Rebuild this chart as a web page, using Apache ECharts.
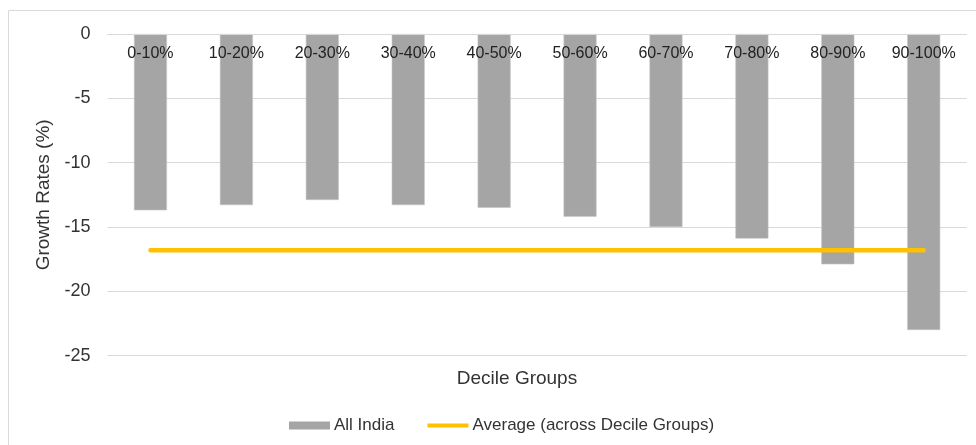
<!DOCTYPE html>
<html>
<head>
<meta charset="utf-8">
<title>Growth Rates by Decile Group</title>
<script src="https://cdn.jsdelivr.net/npm/echarts@6/dist/echarts.min.js"></script>
<style>
  html, body { margin: 0; padding: 0; background: #ffffff; }
  #chart { width: 976px; height: 445px; }
</style>
</head>
<body>
<div id="chart"></div>
<script>
// Decile groups along the category axis
const decileGroups = ['0-10%', '10-20%', '20-30%', '30-40%', '40-50%',
                      '50-60%', '60-70%', '70-80%', '80-90%', '90-100%'];

// Growth rates (%) for All India, per decile group
const allIndia = [-13.7, -13.3, -12.9, -13.3, -13.5, -14.2, -15.0, -15.9, -17.9, -23.0];

// Average growth rate across the decile groups
const averageValue = -16.8;
const averageLine = decileGroups.map(() => averageValue);

// Value-axis ticks
const yTicks = { min: -25, max: 0, interval: 5 };

const FONT = '"Liberation Sans", Arial, sans-serif';
const TEXT = '#333333';

const chart = echarts.init(document.getElementById('chart'), null, { renderer: 'canvas' });

chart.setOption({
  animation: false,
  backgroundColor: '#ffffff',
  textStyle: { fontFamily: FONT },
  grid: { left: 107.5, right: 9.3, top: 34, bottom: 89.3, containLabel: false },
  legend: {
    data: [
      { name: 'All India', icon: 'rect', itemStyle: { color: '#a5a5a5', borderWidth: 0 } },
      { name: 'Average (across Decile Groups)', icon: 'path://M0,0 L45,0 L45,4.5 L0,4.5 Z' }
    ],
    left: 284,
    top: 412,
    itemWidth: 41,
    itemHeight: 8,
    itemGap: 33,
    textStyle: { fontFamily: FONT, fontSize: 17, color: TEXT, padding: [0, 0, 0, -1] }
  },
  xAxis: {
    type: 'category',
    data: decileGroups,
    position: 'top',
    z: 10,
    boundaryGap: true,
    axisLine: { show: true, lineStyle: { color: '#d9d9d9', width: 1 } },
    axisTick: { show: false },
    axisLabel: {
      inside: true,
      margin: 12,
      fontFamily: FONT,
      fontSize: 16,
      color: '#222222'
    },
    splitLine: { show: false }
  },
  yAxis: {
    type: 'value',
    min: yTicks.min,
    max: yTicks.max,
    interval: yTicks.interval,
    name: 'Growth Rates (%)',
    nameLocation: 'middle',
    nameRotate: 90,
    nameGap: 50,
    nameTextStyle: { fontFamily: FONT, fontSize: 19, color: TEXT },
    axisLine: { show: false },
    axisTick: { show: false },
    axisLabel: { fontFamily: FONT, fontSize: 18, color: TEXT, margin: 17 },
    splitLine: { show: true, lineStyle: { color: '#d9d9d9', width: 1 } }
  },
  graphic: [
    {
      type: 'rect',
      shape: { x: 8.5, y: 10.5, width: 1000, height: 500 },
      style: { fill: null, stroke: '#d9d9d9', lineWidth: 1 },
      silent: true
    },
    {
      type: 'text',
      x: 517,
      y: 379,
      style: {
        text: 'Decile Groups',
        align: 'center',
        verticalAlign: 'middle',
        font: '19px ' + FONT,
        fill: TEXT
      },
      silent: true
    }
  ],
  series: [
    {
      name: 'All India',
      type: 'bar',
      data: allIndia,
      barWidth: 33,
      itemStyle: { color: '#a5a5a5', borderColor: '#c4c4c4', borderWidth: 0.6 }
    },
    {
      name: 'Average (across Decile Groups)',
      type: 'line',
      data: averageLine,
      symbol: 'none',
      z: 5,
      lineStyle: { color: '#ffc000', width: 4.5, cap: 'round' },
      itemStyle: { color: '#ffc000' }
    }
  ]
});
</script>
</body>
</html>
